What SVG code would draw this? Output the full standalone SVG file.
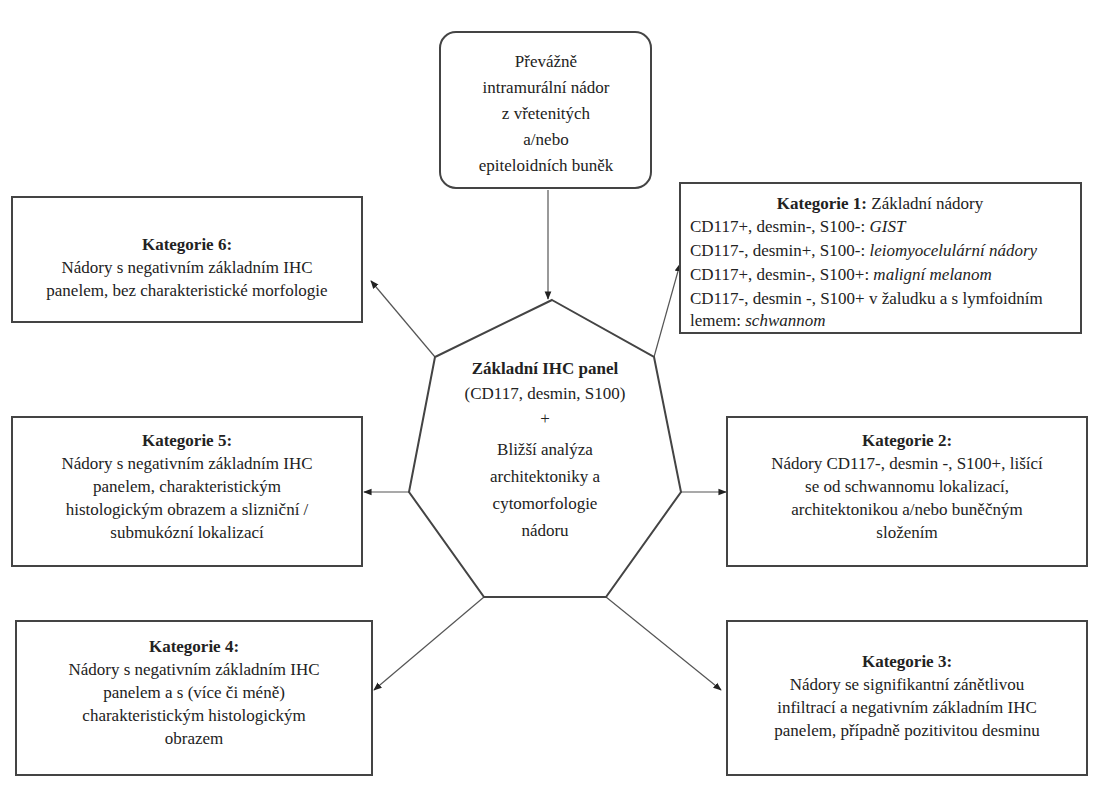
<svg xmlns="http://www.w3.org/2000/svg" width="1099" height="800" viewBox="0 0 1099 800">
<defs>
<style>
text{font-family:"Liberation Serif","DejaVu Serif","Times New Roman",serif;font-size:17px;fill:#222;text-anchor:middle}
.b{font-weight:bold}
.l{text-anchor:start}
.i{font-style:italic}
.box{fill:#fff;stroke:#444;stroke-width:2}
.c{stroke:#555;stroke-width:1.2;fill:none;marker-end:url(#a)}
</style>
<marker id="a" viewBox="0 0 10 10" refX="9" refY="5" markerWidth="7" markerHeight="7" orient="auto"><path d="M0,1 L10,5 L0,9 z" fill="#222"/></marker>
</defs>
<rect width="1099" height="800" fill="#fff"/>
<g id="connectors">
<line class="c" x1="548" y1="190" x2="548" y2="299"/>
<line class="c" x1="435" y1="357" x2="371" y2="281"/>
<line class="c" x1="654" y1="357" x2="680" y2="264"/>
<line class="c" x1="409" y1="492" x2="364" y2="492"/>
<line class="c" x1="681" y1="492" x2="726" y2="492"/>
<line class="c" x1="484" y1="597" x2="374" y2="690"/>
<line class="c" x1="606" y1="597" x2="721" y2="690"/>
</g>
<g id="top">
<rect class="box" x="440" y="32" width="211" height="156" rx="16"/>
<text x="546" y="67">Převážně</text>
<text x="546" y="93">intramurální nádor</text>
<text x="546" y="119">z vřetenitých</text>
<text x="546" y="145">a/nebo</text>
<text x="546" y="171">epiteloidních buněk</text>
</g>
<g id="center">
<polygon points="552,300 654,357 681,492 606,597 484,597 409,492 435,357" fill="#fff" stroke="#444" stroke-width="2"/>
<text class="b" x="545" y="374">Základní IHC panel</text>
<text x="545" y="399">(CD117, desmin, S100)</text>
<text x="545" y="424">+</text>
<text x="545" y="455">Bližší analýza</text>
<text x="545" y="482">architektoniky a</text>
<text x="545" y="509">cytomorfologie</text>
<text x="545" y="536">nádoru</text>
</g>
<g id="kat6">
<rect class="box" x="12" y="197" width="350" height="125"/>
<text class="b" x="187" y="250">Kategorie 6:</text>
<text x="187" y="273">Nádory s negativním základním IHC</text>
<text x="187" y="296">panelem, bez charakteristické morfologie</text>
</g>
<g id="kat1">
<rect class="box" x="680" y="183" width="401" height="150"/>
<text x="880" y="209"><tspan class="b">Kategorie 1:</tspan> Základní nádory</text>
<text class="l" x="690" y="232">CD117+, desmin-, S100-: <tspan class="i">GIST</tspan></text>
<text class="l" x="690" y="256">CD117-, desmin+, S100-: <tspan class="i">leiomyocelulární nádory</tspan></text>
<text class="l" x="690" y="280">CD117+, desmin-, S100+: <tspan class="i">maligní melanom</tspan></text>
<text class="l" x="690" y="304">CD117-, desmin -, S100+ v žaludku a s lymfoidním</text>
<text class="l" x="690" y="326">lemem: <tspan class="i">schwannom</tspan></text>
</g>
<g id="kat5">
<rect class="box" x="12" y="417" width="350" height="149"/>
<text class="b" x="187" y="446">Kategorie 5:</text>
<text x="187" y="469">Nádory s negativním základním IHC</text>
<text x="187" y="492">panelem, charakteristickým</text>
<text x="187" y="515">histologickým obrazem a slizniční /</text>
<text x="187" y="538">submukózní lokalizací</text>
</g>
<g id="kat2">
<rect class="box" x="727" y="417" width="360" height="149"/>
<text class="b" x="907" y="446">Kategorie 2:</text>
<text x="907" y="469">Nádory CD117-, desmin -, S100+, lišící</text>
<text x="907" y="492">se od schwannomu lokalizací,</text>
<text x="907" y="515">architektonikou a/nebo buněčným</text>
<text x="907" y="538">složením</text>
</g>
<g id="kat4">
<rect class="box" x="16" y="621" width="356" height="154"/>
<text class="b" x="194" y="652">Kategorie 4:</text>
<text x="194" y="675">Nádory s negativním základním IHC</text>
<text x="194" y="698">panelem a s (více či méně)</text>
<text x="194" y="721">charakteristickým histologickým</text>
<text x="194" y="744">obrazem</text>
</g>
<g id="kat3">
<rect class="box" x="727" y="621" width="360" height="154"/>
<text class="b" x="907" y="667">Kategorie 3:</text>
<text x="907" y="690">Nádory se signifikantní zánětlivou</text>
<text x="907" y="713">infiltrací a negativním základním IHC</text>
<text x="907" y="736">panelem, případně pozitivitou desminu</text>
</g>
</svg>
